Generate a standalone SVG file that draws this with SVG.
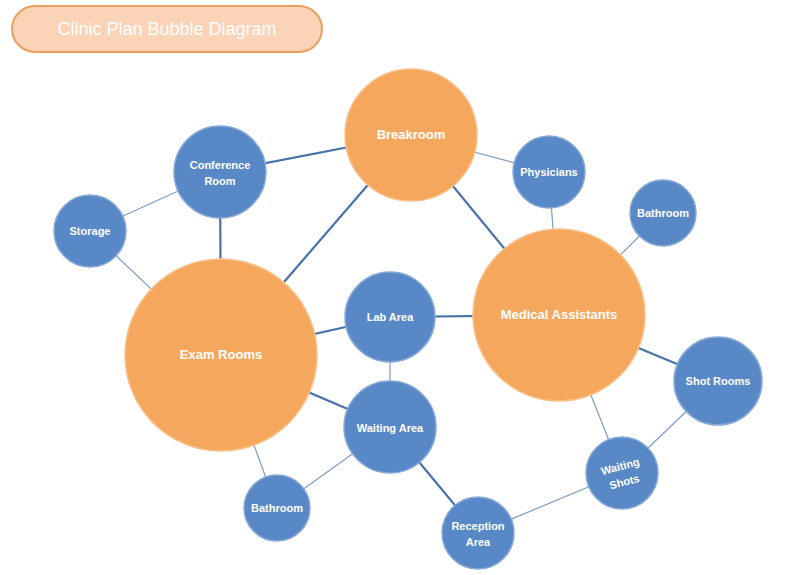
<svg xmlns="http://www.w3.org/2000/svg" width="800" height="575" viewBox="0 0 800 575">
<style>
.blue{fill:#5889c6;stroke:#86a9d8;stroke-width:1.5}
.orange{fill:#f5a85d;stroke:#f8c08a;stroke-width:1.5}
.lbl{font-family:"Comic Sans MS","Liberation Sans",sans-serif;font-size:11px;font-weight:bold;fill:#ffffff;text-anchor:middle}
.big{font-size:13px}
.thick{stroke:#4872a8;stroke-width:2.2;fill:none}
.thin{stroke:#7d9dc7;stroke-width:1.2;fill:none}
</style>
<rect width="800" height="575" fill="#ffffff"/>
<g id="title">
<rect x="12" y="6" width="310" height="46" rx="23" fill="#fbd3b6" stroke="#e8a062" stroke-width="2"/>
<text x="167" y="35" font-family="'Comic Sans MS','Liberation Sans',sans-serif" font-size="18" fill="#ffffff" text-anchor="middle">Clinic Plan Bubble Diagram</text>
</g>
<g id="connectors">
<line class="thick" x1="220" y1="172" x2="411" y2="135"/>
<line class="thin" x1="220" y1="172" x2="90" y2="231"/>
<line class="thick" x1="220" y1="172" x2="221" y2="355"/>
<line class="thin" x1="90" y1="231" x2="221" y2="355"/>
<line class="thick" x1="411" y1="135" x2="221" y2="355"/>
<line class="thin" x1="411" y1="135" x2="549" y2="172"/>
<line class="thick" x1="411" y1="135" x2="559" y2="315"/>
<line class="thin" x1="549" y1="172" x2="559" y2="315"/>
<line class="thin" x1="663" y1="213" x2="559" y2="315"/>
<line class="thick" x1="390" y1="317" x2="559" y2="315"/>
<line class="thick" x1="390" y1="317" x2="221" y2="355"/>
<line class="thin" x1="390" y1="317" x2="390" y2="427"/>
<line class="thick" x1="221" y1="355" x2="390" y2="427"/>
<line class="thin" x1="221" y1="355" x2="277" y2="508"/>
<line class="thin" x1="390" y1="427" x2="277" y2="508"/>
<line class="thick" x1="390" y1="427" x2="478" y2="533"/>
<line class="thin" x1="478" y1="533" x2="622" y2="473"/>
<line class="thin" x1="622" y1="473" x2="559" y2="315"/>
<line class="thin" x1="622" y1="473" x2="718" y2="381"/>
<line class="thick" x1="559" y1="315" x2="718" y2="381"/>
</g>
<g id="breakroom"><circle class="orange" cx="411" cy="135" r="66"/><text class="lbl big" x="411" y="139">Breakroom</text></g>
<g id="conference"><circle class="blue" cx="220" cy="172" r="46"/><text class="lbl" x="220" y="169">Conference</text><text class="lbl" x="220" y="185">Room</text></g>
<g id="storage"><circle class="blue" cx="90" cy="231" r="36"/><text class="lbl" x="90" y="235">Storage</text></g>
<g id="physicians"><circle class="blue" cx="549" cy="172" r="36"/><text class="lbl" x="549" y="176">Physicians</text></g>
<g id="bathroom-right"><circle class="blue" cx="663" cy="213" r="33"/><text class="lbl" x="663" y="217">Bathroom</text></g>
<g id="medical"><circle class="orange" cx="559" cy="315" r="86"/><text class="lbl big" x="559" y="319">Medical Assistants</text></g>
<g id="exam"><circle class="orange" cx="221" cy="355" r="96"/><text class="lbl big" x="221" y="359">Exam Rooms</text></g>
<g id="lab"><circle class="blue" cx="390" cy="317" r="45"/><text class="lbl" x="390" y="321">Lab Area</text></g>
<g id="waiting"><circle class="blue" cx="390" cy="427" r="46"/><text class="lbl" x="390" y="432">Waiting Area</text></g>
<g id="bathroom-bottom"><circle class="blue" cx="277" cy="508" r="33"/><text class="lbl" x="277" y="512">Bathroom</text></g>
<g id="reception"><circle class="blue" cx="478" cy="533" r="36"/><text class="lbl" x="478" y="530">Reception</text><text class="lbl" x="478" y="546">Area</text></g>
<g id="shotrooms"><circle class="blue" cx="718" cy="381" r="44"/><text class="lbl" x="718" y="385">Shot Rooms</text></g>
<g id="waitingshots"><circle class="blue" cx="622" cy="473" r="36"/><g transform="rotate(-15 622 473)"><text class="lbl" x="622" y="470">Waiting</text><text class="lbl" x="622" y="486">Shots</text></g></g>
</svg>
